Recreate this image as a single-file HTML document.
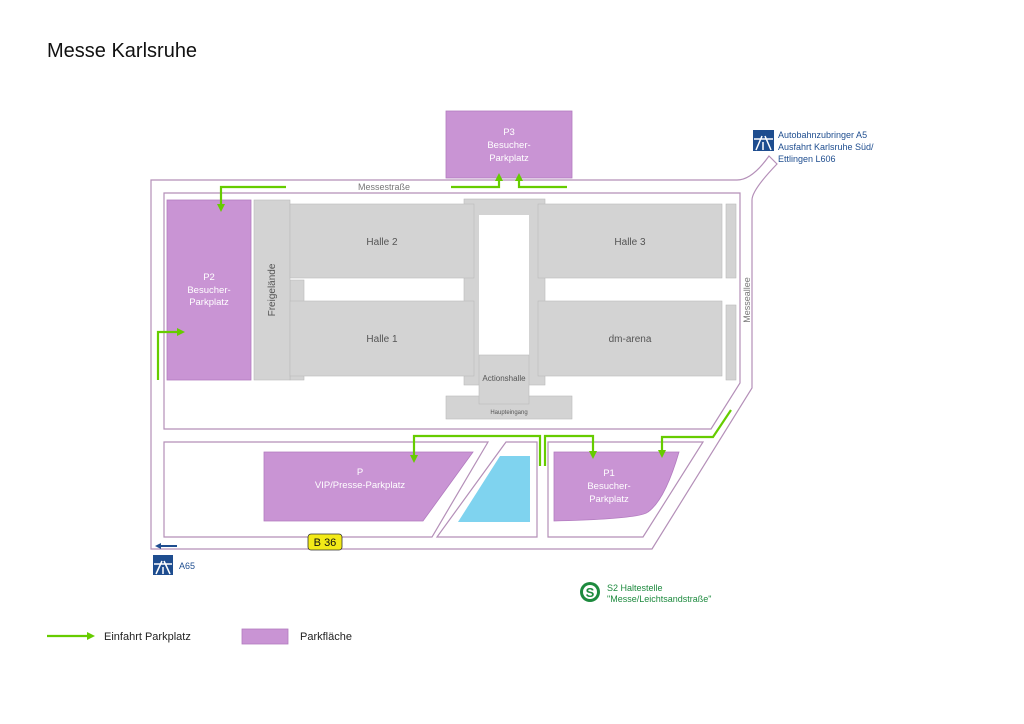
<!DOCTYPE html>
<html><head><meta charset="utf-8"><style>
body{margin:0;background:#fff;width:1024px;height:724px;overflow:hidden}
svg{display:block}
text{font-family:"Liberation Sans",sans-serif}
</style></head><body>
<svg width="1024" height="724" viewBox="0 0 1024 724" xmlns="http://www.w3.org/2000/svg">
<defs><marker id="g" markerWidth="8" markerHeight="8" refX="4" refY="4" orient="auto" markerUnits="userSpaceOnUse"><path d="M0,0 L8,4 L0,8z" fill="#66cc00"/></marker></defs>
<text x="47" y="57" font-size="20" fill="#111">Messe Karlsruhe</text>
<g fill="none" stroke="#b48fb8" stroke-width="1.2">
<path d="M151,549 L151,180 L737,180 Q752,180 769,156 L777,164 Q752,190 752,200 L752,388 L652,549 Z"/>
<path d="M164,193 L740,193 L740,383 L711,429 L164,429 Z"/>
<path d="M164,442 L488,442 L432,537 L164,537 Z"/>
<path d="M506,442 L537,442 L537,537 L437,537 Z"/>
<path d="M548,442 L703,442 L643,537 L548,537 Z"/>
</g>
<text x="384" y="190" font-size="9" fill="#777" text-anchor="middle">Messestraße</text>
<text x="750" y="300" font-size="9" fill="#777" text-anchor="middle" transform="rotate(-90 750 300)">Messeallee</text>
<g fill="#d3d3d3" stroke="#bbb" stroke-width="0.6">
<rect x="290" y="280" width="14" height="22"/>
<rect x="290" y="370" width="14" height="10"/>
<rect x="464" y="199" width="81" height="186"/>
<rect x="446" y="396" width="126" height="23"/>
<rect x="254" y="200" width="36" height="180"/>
<rect x="290" y="204" width="184" height="74"/>
<rect x="290" y="301" width="184" height="75"/>
<rect x="538" y="204" width="184" height="74"/>
<rect x="538" y="301" width="184" height="75"/>
<rect x="726" y="204" width="10" height="74"/>
<rect x="726" y="305" width="10" height="75"/>
</g>
<rect x="479" y="215" width="50" height="140" fill="#fff"/>
<rect x="479" y="355" width="50" height="49" fill="#d3d3d3" stroke="#bbb" stroke-width="0.6"/>
<g font-size="10" fill="#555" text-anchor="middle">
<text x="382" y="245">Halle 2</text><text x="382" y="342">Halle 1</text>
<text x="630" y="245">Halle 3</text><text x="630" y="342">dm-arena</text>
<text x="504" y="381" font-size="8">Actionshalle</text>
<text x="509" y="414" font-size="6">Haupteingang</text>
<text x="275" y="290" transform="rotate(-90 275 290)">Freigelände</text>
</g>
<g fill="#c994d4" stroke="#b27bbf" stroke-width="0.8">
<rect x="167" y="200" width="84" height="180"/>
<rect x="446" y="111" width="126" height="67"/>
<path d="M264,452 L473,452 L423,521 L264,521 Z"/>
<path d="M554,452 L679,452 Q665,500 648,512 Q640,519 554,521 Z"/>
</g>
<path d="M500,456 L530,456 L530,522 L458,522 Z" fill="#7fd3ef"/>
<rect x="242" y="629" width="46" height="15" fill="#c994d4" stroke="#b27bbf" stroke-width="0.8"/>
<g font-size="9.5" fill="#fff" text-anchor="middle">
<text x="209" y="280">P2</text><text x="209" y="293">Besucher-</text><text x="209" y="305">Parkplatz</text>
<text x="509" y="135">P3</text><text x="509" y="148">Besucher-</text><text x="509" y="161">Parkplatz</text>
<text x="360" y="475">P</text><text x="360" y="488">VIP/Presse-Parkplatz</text>
<text x="609" y="476">P1</text><text x="609" y="489">Besucher-</text><text x="609" y="502">Parkplatz</text>
</g>
<g fill="none" stroke="#66cc00" stroke-width="2.2">
<path d="M286,187 L221,187 L221,208" marker-end="url(#g)"/>
<path d="M158,380 L158,332 L181,332" marker-end="url(#g)"/>
<path d="M451,187 L499,187 L499,177" marker-end="url(#g)"/>
<path d="M567,187 L519,187 L519,177" marker-end="url(#g)"/>
<path d="M540,466 L540,436 L414,436 L414,459" marker-end="url(#g)"/>
<path d="M545,466 L545,436 L593,436 L593,455" marker-end="url(#g)"/>
<path d="M731,410 L713,437 L662,437 L662,454" marker-end="url(#g)"/>
<path d="M47,636 L91,636" marker-end="url(#g)"/>
</g>
<text x="104" y="640" font-size="11" fill="#222">Einfahrt Parkplatz</text>
<text x="300" y="640" font-size="11" fill="#222">Parkfläche</text>
<rect x="308" y="534" width="34" height="16" rx="3" fill="#f3ea17" stroke="#333" stroke-width="0.8"/>
<text x="325" y="546" font-size="11" fill="#111" text-anchor="middle">B 36</text>
<path d="M177,546 L160,546" stroke="#1e4d8f" stroke-width="2"/><path d="M155,546 L161,543 L161,549z" fill="#1e4d8f"/>
<g fill="#1e4d8f">
<rect x="753" y="130" width="21" height="21"/><rect x="153" y="555" width="20" height="20"/>
</g>
<g stroke="#fff" stroke-width="1.5" fill="none">
<path d="M756,150 L762,136 M771,150 L765,136 M763,142 L763,150 M754,139 L773,139"/>
<path d="M156,574 L162,561 M170,574 L164,561 M163,567 L163,574 M154,564 L172,564"/>
</g>
<g font-size="9" fill="#1e4d8f">
<text x="778" y="138">Autobahnzubringer A5</text>
<text x="778" y="150">Ausfahrt Karlsruhe Süd/</text>
<text x="778" y="162">Ettlingen L606</text>
<text x="179" y="569">A65</text>
</g>
<circle cx="590" cy="592" r="10" fill="#1d8a3e"/>
<circle cx="590" cy="592" r="7" fill="#fff"/>
<text x="590" y="597" font-size="13" font-weight="bold" fill="#1d8a3e" text-anchor="middle">S</text>
<g font-size="9" fill="#1d8a3e">
<text x="607" y="591">S2 Haltestelle</text>
<text x="607" y="602">"Messe/Leichtsandstraße"</text>
</g>
</svg>
</body></html>
